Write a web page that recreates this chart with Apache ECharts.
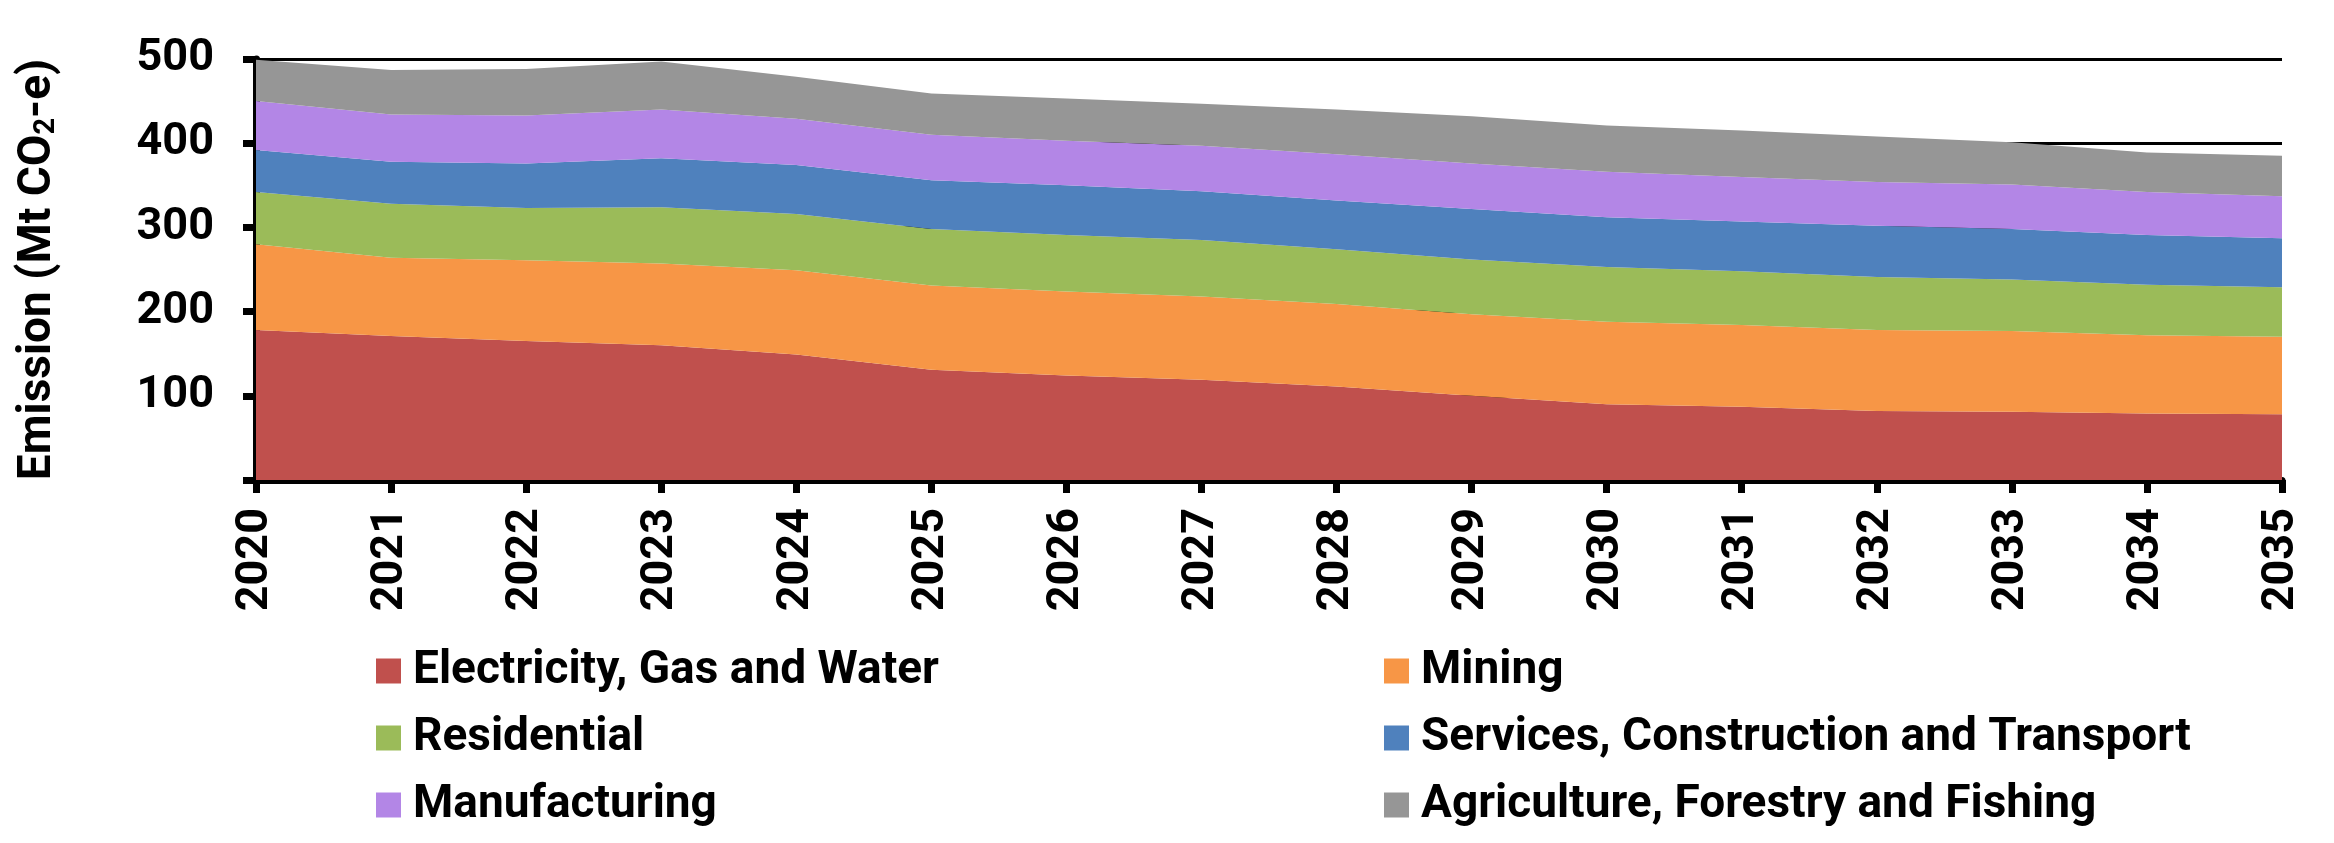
<!DOCTYPE html>
<html>
<head>
<meta charset="utf-8">
<script src="https://cdn.jsdelivr.net/npm/echarts@6/dist/echarts.min.js"></script>
<style>
  html, body { margin: 0; padding: 0; background: #fff; }
  #chart { width: 2334px; height: 843px; }
</style>
</head>
<body>
<div id="chart"></div>
<script>
// years on the x axis
const years = ['2020', '2021', '2022', '2023', '2024', '2025', '2026', '2027',
  '2028', '2029', '2030', '2031', '2032', '2033', '2034', '2035'];

// emissions by sector, Mt CO2-e (stacked bottom to top)
const electricity = [178, 171, 165, 160, 149, 131, 124, 119, 111, 100, 90, 87, 82, 81, 79, 78];
const mining = [102, 93, 96, 97, 100, 100, 100, 99, 98, 97, 98, 97, 96, 96, 93, 92];
const residential = [62, 64, 62, 67, 67, 67, 67, 67, 65, 65, 65, 64, 63, 61, 60, 59];
const services = [50, 50, 53, 58, 58, 58, 59, 58, 58, 60, 59, 59, 61, 60, 59, 58];
const manufacturing = [58, 56, 57, 58, 55, 54, 53, 54, 55, 54, 54, 53, 52, 53, 51, 50];
const agriculture = [49, 53, 55, 57, 50, 49, 50, 50, 53, 56, 55, 55, 54, 50, 47, 48];

const yTicks = [0, 100, 200, 300, 400, 500];

const sectors = [
  { name: 'Electricity, Gas and Water', data: electricity, color: '#C0504D' },
  { name: 'Mining', data: mining, color: '#F79646' },
  { name: 'Residential', data: residential, color: '#9BBB59' },
  { name: 'Services, Construction and Transport', data: services, color: '#4F81BD' },
  { name: 'Manufacturing', data: manufacturing, color: '#B386E6' },
  { name: 'Agriculture, Forestry and Fishing', data: agriculture, color: '#969696' }
];

const font = 'Roboto';
const legendText = { fontSize: 46, fontWeight: 'bold', color: '#000', fontFamily: font, lineHeight: 46, padding: [0, 0, 0, 7] };

const chart = echarts.init(document.getElementById('chart'), null, { renderer: 'canvas' });

const option = {
  animation: false,
  grid: { left: 256, right: 52, top: 59, bottom: 363 },
  xAxis: {
    type: 'category',
    data: years,
    boundaryGap: false,
    axisLine: { lineStyle: { color: '#000', width: 7 } },
    axisTick: { alignWithLabel: true, length: 13, lineStyle: { color: '#000', width: 7 } },
    axisLabel: {
      rotate: 90, margin: 28, interval: 0,
      fontSize: 45, fontWeight: 'bold', color: '#000', fontFamily: font
    },
    splitLine: { show: false }
  },
  yAxis: {
    type: 'value',
    min: yTicks[0],
    max: yTicks[yTicks.length - 1],
    interval: 100,
    name: 'Emission (Mt CO{sub|2}-e)',
    nameLocation: 'middle',
    nameRotate: 90,
    nameGap: 195,
    nameTextStyle: {
      fontSize: 46, fontWeight: 'bold', color: '#000', fontFamily: font,
      rich: {
        sub: { fontSize: 29, fontWeight: 'bold', color: '#000', fontFamily: font, verticalAlign: 'bottom', padding: [14, 0, 0, 0] }
      }
    },
    axisLine: { show: true, lineStyle: { color: '#000', width: 7 } },
    axisTick: { show: true, length: 13, lineStyle: { color: '#000', width: 7 } },
    axisLabel: {
      margin: 42,
      fontSize: 45, fontWeight: 'bold', color: '#000', fontFamily: font,
      formatter: v => (v === 0 ? '' : String(v))
    },
    splitLine: { show: true, lineStyle: { color: '#000', width: 3 } }
  },
  legend: [
    {
      orient: 'vertical', left: 371, top: 643,
      itemWidth: 25, itemHeight: 25, itemGap: 21, icon: 'rect',
      data: [sectors[0].name, sectors[2].name, sectors[4].name],
      textStyle: legendText
    },
    {
      orient: 'vertical', left: 1379, top: 643,
      itemWidth: 25, itemHeight: 25, itemGap: 21, icon: 'rect',
      data: [sectors[1].name, sectors[3].name, sectors[5].name],
      textStyle: legendText
    }
  ],
  series: sectors.map(s => ({
    name: s.name,
    type: 'line',
    stack: 'Total',
    data: s.data,
    symbol: 'none',
    itemStyle: { color: s.color },
    lineStyle: { width: 0 },
    areaStyle: { color: s.color, opacity: 1 }
  }))
};

chart.setOption(option);
</script>
</body>
</html>
